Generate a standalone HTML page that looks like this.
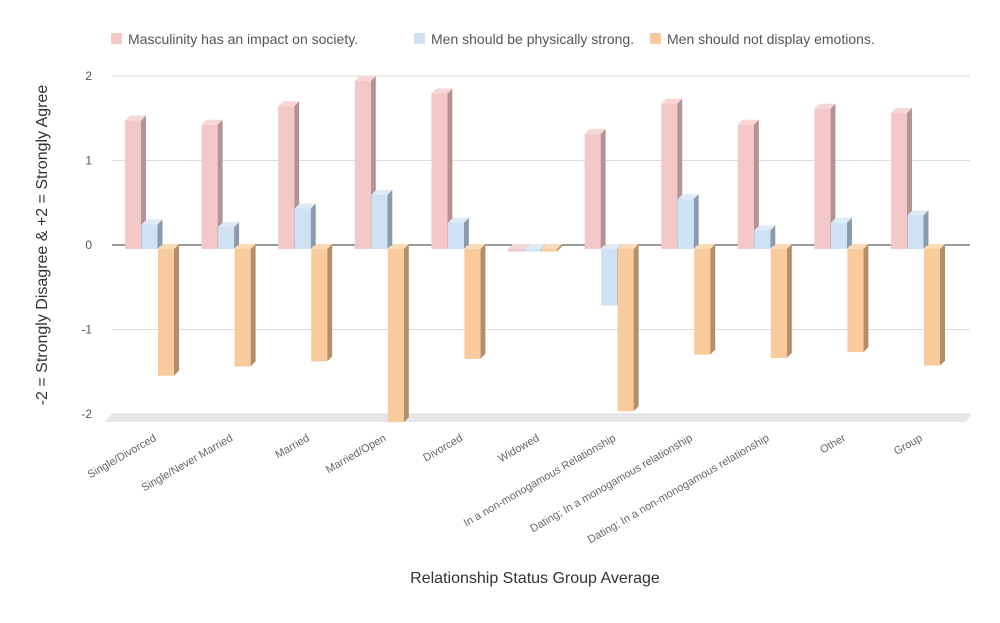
<!DOCTYPE html>
<html><head><meta charset="utf-8"><style>
body{margin:0;background:#fff;font-family:"Liberation Sans",sans-serif}
svg text{font-family:"Liberation Sans",sans-serif}
</style></head><body>
<svg id="chart" width="1000" height="618" viewBox="0 0 1000 618" xmlns="http://www.w3.org/2000/svg">
<g>
 <rect x="111" y="33" width="11" height="11" fill="#f4c7c8"/>
 <text x="128" y="44" font-size="14" fill="#555">Masculinity has an impact on society.</text>
 <rect x="414" y="33" width="11" height="11" fill="#cfe2f3"/>
 <text x="431" y="44" font-size="14" fill="#555">Men should be physically strong.</text>
 <rect x="650" y="33" width="11" height="11" fill="#f9cb9c"/>
 <text x="667" y="44" font-size="14" fill="#555">Men should not display emotions.</text>
</g>
<polygon points="112,414 972,414 966,422 104,422" fill="#e6e6e6"/>
<g id="grid"></g>
<g id="bars"></g>
<g id="labels"></g>
<text transform="translate(47,245) rotate(-90)" text-anchor="middle" font-size="16" fill="#333">-2 = Strongly Disagree &amp; +2 = Strongly Agree</text>
<text x="535" y="583" text-anchor="middle" font-size="16" fill="#333">Relationship Status Group Average</text>
</svg>
<script>
const categories=["Single/Divorced","Single/Never Married","Married","Married/Open","Divorced","Widowed","In a non-monogamous Relationship","Dating; In a monogamous relationship","Dating; In a non-monogamous relationship","Other","Group"];
const masculinity=[1.52,1.47,1.69,1.99,1.84,-0.03,1.36,1.72,1.47,1.66,1.61];
const strong=[0.29,0.26,0.48,0.64,0.31,-0.03,-0.67,0.59,0.22,0.31,0.40];
const emotions=[-1.5,-1.39,-1.33,-2.05,-1.3,-0.03,-1.92,-1.25,-1.29,-1.22,-1.38];
const yTicks=[-2,-1,0,1,2];
const NS="http://www.w3.org/2000/svg";
const y0=245,unit=84.5;
function yScale(v){return y0-v*unit;}
function xScale(i){return 125+i*76.6;}
function mk(tag,attrs,parent){const e=document.createElementNS(NS,tag);for(const k in attrs)e.setAttribute(k,attrs[k]);parent.appendChild(e);return e;}
const grid=document.getElementById('grid'),bars=document.getElementById('bars'),labels=document.getElementById('labels');
yTicks.forEach(t=>{
 const l=mk('line',{x1:112,x2:970,y1:yScale(t),y2:yScale(t),stroke:t===0?'#333':'#ddd','stroke-width':1},grid);
 
 
 const tx=mk('text',{x:92,y:yScale(t)+4,'text-anchor':'end','font-size':12,fill:'#555'},grid);
 tx.textContent=String(t);
 
 
});
const series=[{vals:masculinity,front:'#f4c7c8',side:'#b39394',top:'#f7d6d7',name:'masculinity'},
{vals:strong,front:'#cfe2f3',side:'#8b9bab',top:'#deebf7',name:'strong'},
{vals:emotions,front:'#f9cb9c',side:'#b38e66',top:'#fbdab8',name:'emotions'}];
categories.forEach((c,i)=>{
 series.forEach((s,j)=>{
  const v=s.vals[i];const x=xScale(i)+j*16.5;
  const a=yScale(v)+4,b=yScale(0)+4;const yt=Math.min(a,b),yb=Math.max(a,b);
  const g=mk('g',{},bars);
  
  
  mk('polygon',{points:`${x+16},${yt} ${x+21},${yt-5} ${x+21},${yb-5} ${x+16},${yb}`,fill:s.side},g);
  mk('polygon',{points:`${x},${yt} ${x+5},${yt-5} ${x+21},${yt-5} ${x+16},${yt}`,fill:s.top},g);
  mk('rect',{x:x,y:yt,width:16,height:Math.max(yb-yt,1),fill:s.front},g);
 });
 const t=mk('text',{'text-anchor':'end','font-size':11,fill:'#666',transform:`translate(${xScale(i)+32},440) rotate(-30)`},labels);
 t.textContent=c;
 
 
});
</script>
</body></html>
